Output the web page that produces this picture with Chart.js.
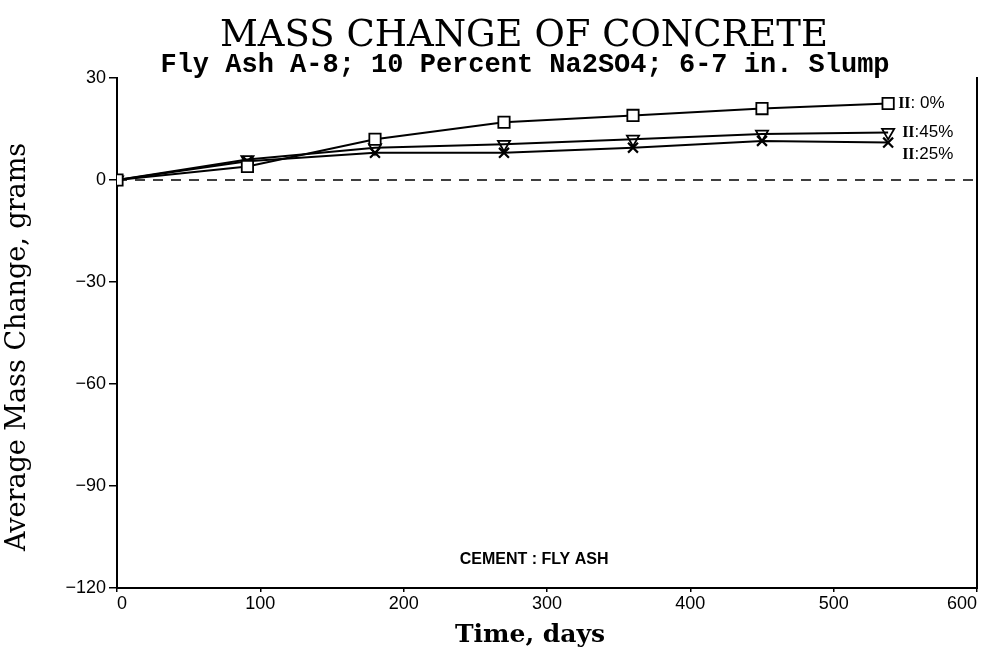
<!DOCTYPE html>
<html>
<head>
<meta charset="utf-8">
<script src="https://cdn.jsdelivr.net/npm/chart.js@4/dist/chart.umd.min.js"></script>
<style>
  html, body { margin: 0; padding: 0; background: #fff; }
  #wrap { width: 982px; height: 656px; }
</style>
</head>
<body>
<div id="wrap"><canvas id="graficaMasa" width="982" height="656"></canvas></div>
<script>
// datos
var dias = [0, 91, 180, 270, 360, 450, 538];
var cemento0 = [0, 4, 12, 17, 19, 21, 22.5];
var cemento45 = [0, 6, 9.5, 10.5, 12, 13.5, 14];
var cemento25 = [0, 5.5, 8, 8, 9.5, 11.5, 11];
var etiquetas = [": 0%", ":45%", ":25%"];
var lineaCeroX = [0, 600];
var lineaCeroY = [0, 0];
var ticksY = [30, 0, -30, -60, -90, -120];
var ticksX = [0, 100, 200, 300, 400, 500, 600];

var titulo = 'MASS CHANGE OF CONCRETE';
var subtitulo = 'Fly Ash A-8; 10 Percent Na2SO4; 6-7 in. Slump';
var tituloY = 'Average Mass Change, grams';
var tituloX = 'Time, days';

function armarPuntos(xs, ys) {
    var pts = [];
    for (var i = 0; i < xs.length; i++) {
        pts.push({ x: xs[i], y: ys[i] });
    }
    return pts;
}

// titulos y textos sueltos
var textosPlugin = {
    id: 'textos',
    afterDraw: function(chart) {
        var ctx = chart.ctx;
        var area = chart.chartArea;
        ctx.save();
        ctx.fillStyle = '#000';
        ctx.textBaseline = 'middle';

        // titulos
        ctx.textAlign = 'center';
        ctx.font = '37px "DejaVu Serif", serif';
        ctx.fillText(titulo, 524, 36);
        ctx.font = 'bold 27px "Liberation Mono", "Courier New", monospace';
        ctx.fillText(subtitulo, 525, 65);
        ctx.font = 'bold 25px "DejaVu Serif", serif';
        ctx.fillText(tituloX, 530, 635);
        ctx.save();
        ctx.translate(18, 347);
        ctx.rotate(-Math.PI / 2);
        ctx.font = '27px "DejaVu Serif", serif';
        ctx.fillText(tituloY, 0, 0);
        ctx.restore();

        // etiquetas al final de cada serie
        ctx.textAlign = 'left';
        var desplazX = [10, 14, 14];
        var desplazY = [0, 0, 12];
        for (var d = 0; d < 3; d++) {
            var meta = chart.getDatasetMeta(d);
            var ultimo = meta.data[meta.data.length - 1];
            var x0 = ultimo.x + desplazX[d];
            var y0 = ultimo.y + desplazY[d];
            ctx.font = 'bold 16px "Liberation Serif", serif';
            ctx.fillText('II', x0, y0);
            var w = ctx.measureText('II').width;
            ctx.font = '17px "Liberation Sans", Arial, sans-serif';
            ctx.fillText(etiquetas[d], x0 + w, y0);
        }

        ctx.font = 'bold 16px "Liberation Sans Narrow", "Liberation Sans", Arial, sans-serif';
        ctx.textAlign = 'center';
        ctx.fillText('CEMENT : FLY ASH', chart.scales.x.getPixelForValue(291), area.bottom - 28);
        ctx.restore();
    }
};

var ctx = document.getElementById('graficaMasa').getContext('2d');
var grafica = new Chart(ctx, {
    type: 'line',
    data: {
        datasets: [
            {
                label: 'II: 0%',
                data: armarPuntos(dias, cemento0),
                borderColor: '#000',
                backgroundColor: '#fff',
                borderWidth: 2,
                pointStyle: 'rect',
                pointRadius: 8,
                pointBorderWidth: 1.8,
                tension: 0
            },
            {
                label: 'II:45%',
                data: armarPuntos(dias, cemento45),
                borderColor: '#000',
                backgroundColor: 'rgba(0,0,0,0)',
                borderWidth: 2,
                pointStyle: 'triangle',
                rotation: 180,
                pointRadius: 7,
                pointBorderWidth: 1.8,
                tension: 0
            },
            {
                label: 'II:25%',
                data: armarPuntos(dias, cemento25),
                borderColor: '#000',
                backgroundColor: '#000',
                borderWidth: 2,
                pointStyle: 'crossRot',
                pointRadius: 7,
                pointBorderWidth: 2.2,
                tension: 0
            },
            {
                label: 'cero',
                data: armarPuntos(lineaCeroX, lineaCeroY),
                borderColor: '#000',
                borderWidth: 1.6,
                borderDash: [10, 8],
                pointRadius: 0,
                tension: 0
            }
        ]
    },
    options: {
        responsive: false,
        animation: false,
        layout: { autoPadding: false, padding: { left: 0, right: 1, top: 78, bottom: 2 } },
        plugins: {
            legend: { display: false },
            tooltip: { enabled: false },
            title: { display: false }
        },
        scales: {
            x: {
                type: 'linear',
                min: 0,
                max: 600,
                afterBuildTicks: function(s) { s.ticks = ticksX.map(function(v) { return { value: v }; }); },
                afterFit: function(s) {
                    s.height = 66;
                    s.paddingLeft = 0;
                    s.paddingRight = 0;
                },
                ticks: {
                    color: '#000',
                    font: { family: '"Liberation Sans", Arial, sans-serif', size: 18 },
                    padding: 1,
                    maxRotation: 0,
                    align: 'inner'
                },
                grid: { drawOnChartArea: false, color: '#000', tickLength: 4, lineWidth: 1.5 },
                border: { color: '#000', width: 2 }
            },
            y: {
                type: 'linear',
                min: -120,
                max: 30,
                afterBuildTicks: function(s) { s.ticks = ticksY.map(function(v) { return { value: v }; }); },
                afterFit: function(s) { s.width = 117; },
                ticks: {
                    color: '#000',
                    font: { family: '"Liberation Sans", Arial, sans-serif', size: 18 },
                    padding: 3,
                    callback: function(v) { return v < 0 ? '\u2212' + Math.abs(v) : String(v); }
                },
                grid: { drawOnChartArea: false, color: '#000', tickLength: 8, lineWidth: 1.5 },
                border: { color: '#000', width: 2 }
            },
            y2: {
                type: 'linear',
                position: 'right',
                min: -120,
                max: 30,
                afterFit: function(s) { s.width = 4; },
                ticks: { display: false },
                grid: { drawOnChartArea: false, drawTicks: false },
                border: { color: '#000', width: 2 }
            }
        }
    },
    plugins: [textosPlugin]
});
</script>
</body>
</html>
